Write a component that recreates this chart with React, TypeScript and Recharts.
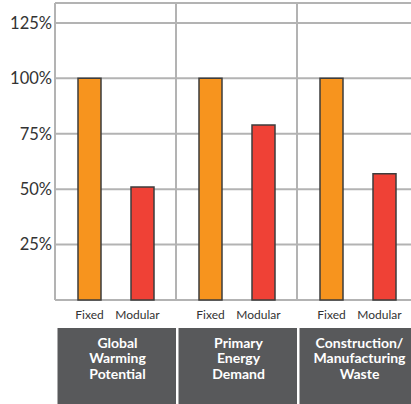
import { BarChart, Bar, XAxis, YAxis, CartesianGrid, ReferenceLine } from 'recharts';

const categories = ['Global\nWarming\nPotential', 'Primary\nEnergy\nDemand', 'Construction/\nManufacturing\nWaste'];
const seriesNames = ['Fixed', 'Modular'];
const fixedValues = [100, 100, 100];
const modularValues = [51, 79, 57];
const yTicks = [0, 25, 50, 75, 100, 125];

const data = categories.map((name, i) => ({
  name,
  fixed: fixedValues[i],
  modular: modularValues[i],
}));

const gridColor = '#b3b3b3';
const font = 'Lato, "Open Sans", sans-serif';

const CategoryTick = ({ x, y, payload }: any) => {
  const half = payload.offset || 60;
  const lines = String(payload.value).split('\n');
  return (
    <g>
      <rect x={x - half + 2.5} y={y + 28} width={half * 2 - 2.5} height={80} fill="#58595b" />
      {lines.map((line, i) => (
        <text
          key={i}
          x={x + 2}
          y={y + 48 + i * 15.3}
          textAnchor="middle"
          fill="#fff"
          fontFamily={font}
          fontWeight={700}
          fontSize={14}
        >
          {line}
        </text>
      ))}
    </g>
  );
};

// labels under the bars, nudged a little like the original
const seriesLabel = (name: string, dx: number) => (p: any) => (
  <text
    x={p.x + p.width / 2 + dx}
    y={p.y + p.height + 19}
    textAnchor="middle"
    fill="#333"
    fontFamily={font}
    fontSize={12}
  >
    {name}
  </text>
);

export default function App() {
  return (
    <div style={{ position: 'absolute', left: 0, top: 0, width: 411, height: 404, overflow: 'hidden', background: '#fff' }}>
      <BarChart width={418} height={404} data={data} margin={{ top: 3, right: 0, left: 0, bottom: 0 }} barGap={30}>
        <CartesianGrid vertical={false} stroke={gridColor} strokeWidth={2} />
        <XAxis
          dataKey="name"
          height={104}
          axisLine={false}
          tickLine={false}
          tickSize={0}
          tickMargin={0}
          interval={0}
          tick={<CategoryTick />}
        />
        <YAxis
          type="number"
          domain={[0, 134]}
          ticks={yTicks}
          width={55}
          axisLine={false}
          tickLine={false}
          tickSize={0}
          tickMargin={3}
          tickFormatter={(v: number) => (v === 0 ? '' : `${v}%`)}
          tick={{ fill: '#333', fontSize: 16.5, fontFamily: font }}
        />
        {categories.map((c) => (
          <ReferenceLine key={c} x={c} position="start" stroke={gridColor} strokeWidth={2} />
        ))}
        <Bar
          dataKey="fixed"
          name={seriesNames[0]}
          barSize={23}
          fill="#f7941e"
          stroke="#3d3d3d"
          strokeWidth={1.5}
          isAnimationActive={false}
          label={seriesLabel(seriesNames[0], 0)}
        />
        <Bar
          dataKey="modular"
          name={seriesNames[1]}
          barSize={23}
          fill="#ef4136"
          stroke="#3d3d3d"
          strokeWidth={1.5}
          isAnimationActive={false}
          label={seriesLabel(seriesNames[1], -5)}
        />
      </BarChart>
    </div>
  );
}
